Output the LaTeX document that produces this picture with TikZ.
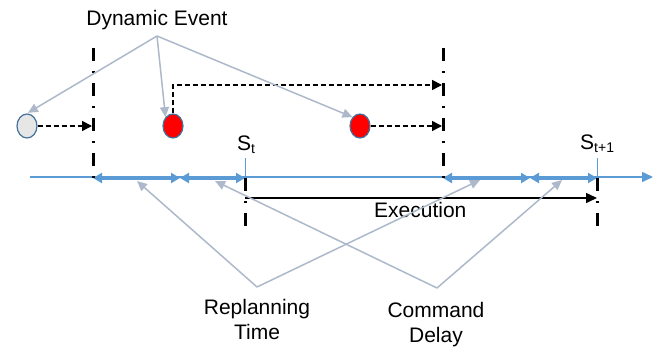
\documentclass[tikz,border=0pt]{standalone}
\usepackage{fontspec}
\setmainfont{Liberation Sans}
\usetikzlibrary{arrows.meta,shapes.geometric}
\definecolor{tlblue}{HTML}{5B9BD5}
\definecolor{callgray}{HTML}{ADB9CA}
\definecolor{ringblue}{HTML}{41719C}
\definecolor{lightfill}{HTML}{E7E6E6}
\definecolor{evred}{HTML}{FF0000}
\tikzset{
  lbl/.style={font=\fontsize{21}{25}\selectfont, inner sep=0pt, align=center},
  evgray/.style={ellipse, draw=ringblue, line width=1.2pt, fill=lightfill, minimum width=20pt, minimum height=24pt, inner sep=0pt},
  evred/.style={ellipse, draw=ringblue, line width=1.2pt, fill=evred, minimum width=20pt, minimum height=24pt, inner sep=0pt},
  dashdot/.style={line width=3pt, black, dash pattern=on 13pt off 10pt on 2pt off 10pt},
  thinline/.style={tlblue, line width=1.5pt},
  seg/.style={tlblue, line width=3pt, {Triangle[length=9pt,width=10pt]}-{Triangle[length=9pt,width=10pt]}},
  callout/.style={callgray, line width=1.5pt, -{Triangle[length=10pt,width=9pt]}},
  dasharrow/.style={black, line width=1.5pt, dash pattern=on 5pt off 3pt, -{Triangle[length=10pt,width=10pt]}},
}
\begin{document}
\begin{tikzpicture}[x=1pt,y=-1pt]
\useasboundingbox (0,0) rectangle (664,351);
% coordinates
\coordinate (tl0) at (30,177);
\coordinate (tlend) at (653,177);
\coordinate (v1top) at (93,48);
\coordinate (v1bot) at (93,179);
\coordinate (v2top) at (443,48);
\coordinate (v2bot) at (443,179);
\coordinate (st) at (245,178);
\coordinate (stbot) at (245,227);
\coordinate (st1) at (597,178);
\coordinate (st1bot) at (597,227);
\coordinate (s1) at (93,178);
\coordinate (s2) at (180,178);
\coordinate (s3) at (443,178);
\coordinate (s4) at (530,178);
\coordinate (sttick) at (245,158);
\coordinate (st1tick) at (597,158);
\coordinate (tlst) at (245,177);
\coordinate (tlst1) at (597,177);
\coordinate (ex0) at (245,198);
\coordinate (ex1) at (597,198);
\coordinate (h0) at (92,126);
\coordinate (h1) at (442,85);
\coordinate (h2) at (442,126);
\coordinate (dynroot) at (157,36);
\coordinate (rpapex) at (257,287);
\coordinate (rp1) at (137,181);
\coordinate (rp2) at (480,180);
\coordinate (cdapex) at (437,288);
\coordinate (cd1) at (215,181);
\coordinate (cd2) at (562,180);

% timeline
\draw[thinline, -{Triangle[length=11pt,width=10pt]}] (tl0) -- (tlend);
\draw[tlblue, line width=1pt] (sttick) -- (tlst);
\draw[tlblue, line width=1pt] (st1tick) -- (tlst1);
\draw[seg] (s1) -- (s2);
\draw[seg] (s2) -- (st);
\draw[seg] (s3) -- (s4);
\draw[seg] (s4) -- (st1);

% dash-dot verticals
\draw[dashdot] (v1top) -- (v1bot);
\draw[dashdot] (v2top) -- (v2bot);
\draw[dashdot] (st) -- (stbot);
\draw[dashdot] (st1) -- (st1bot);

% execution
\draw[black, line width=1.5pt, -{Triangle[length=11pt,width=10pt]}] (ex0) -- (ex1);

% events
\node[evgray] (c0) at (27,126) {};
\node[evred] (c1) at (173,126) {};
\node[evred] (c2) at (360,126) {};
\draw[dasharrow] (c0.east) -- (h0);
\draw[dasharrow] (c1.north) |- (h1);
\draw[dasharrow] (c2.east) -- (h2);

% labels
\node[lbl, anchor=base] (dyn) at (157,25) {Dynamic Event};
\node[lbl, anchor=base west] (stl) at (237,150) {S\raisebox{-0.32ex}{\fontsize{14}{14}\selectfont t}};
\node[lbl, anchor=base west] (st1l) at (580,149) {S\raisebox{-0.32ex}{\fontsize{14}{14}\selectfont t+1}};
\node[lbl, anchor=base west] (exl) at (374,217) {Execution};
\node[lbl, anchor=north] (rpl) at (257,299.5) {Replanning\\Time};
\node[lbl, anchor=north] (cdl) at (436,302.5) {Command\\Delay};

% callouts
\draw[callout, shorten >=1pt] (dynroot) -- (c0.north);
\draw[callout] (dynroot) -- (c1.north west);
\draw[callout] (dynroot) -- (c2.north west);
\draw[callout] (rpapex) -- (rp1);
\draw[callout] (rpapex) -- (rp2);
\draw[callout] (cdapex) -- (cd1);
\draw[callout] (cdapex) -- (cd2);
\end{tikzpicture}
\end{document}
